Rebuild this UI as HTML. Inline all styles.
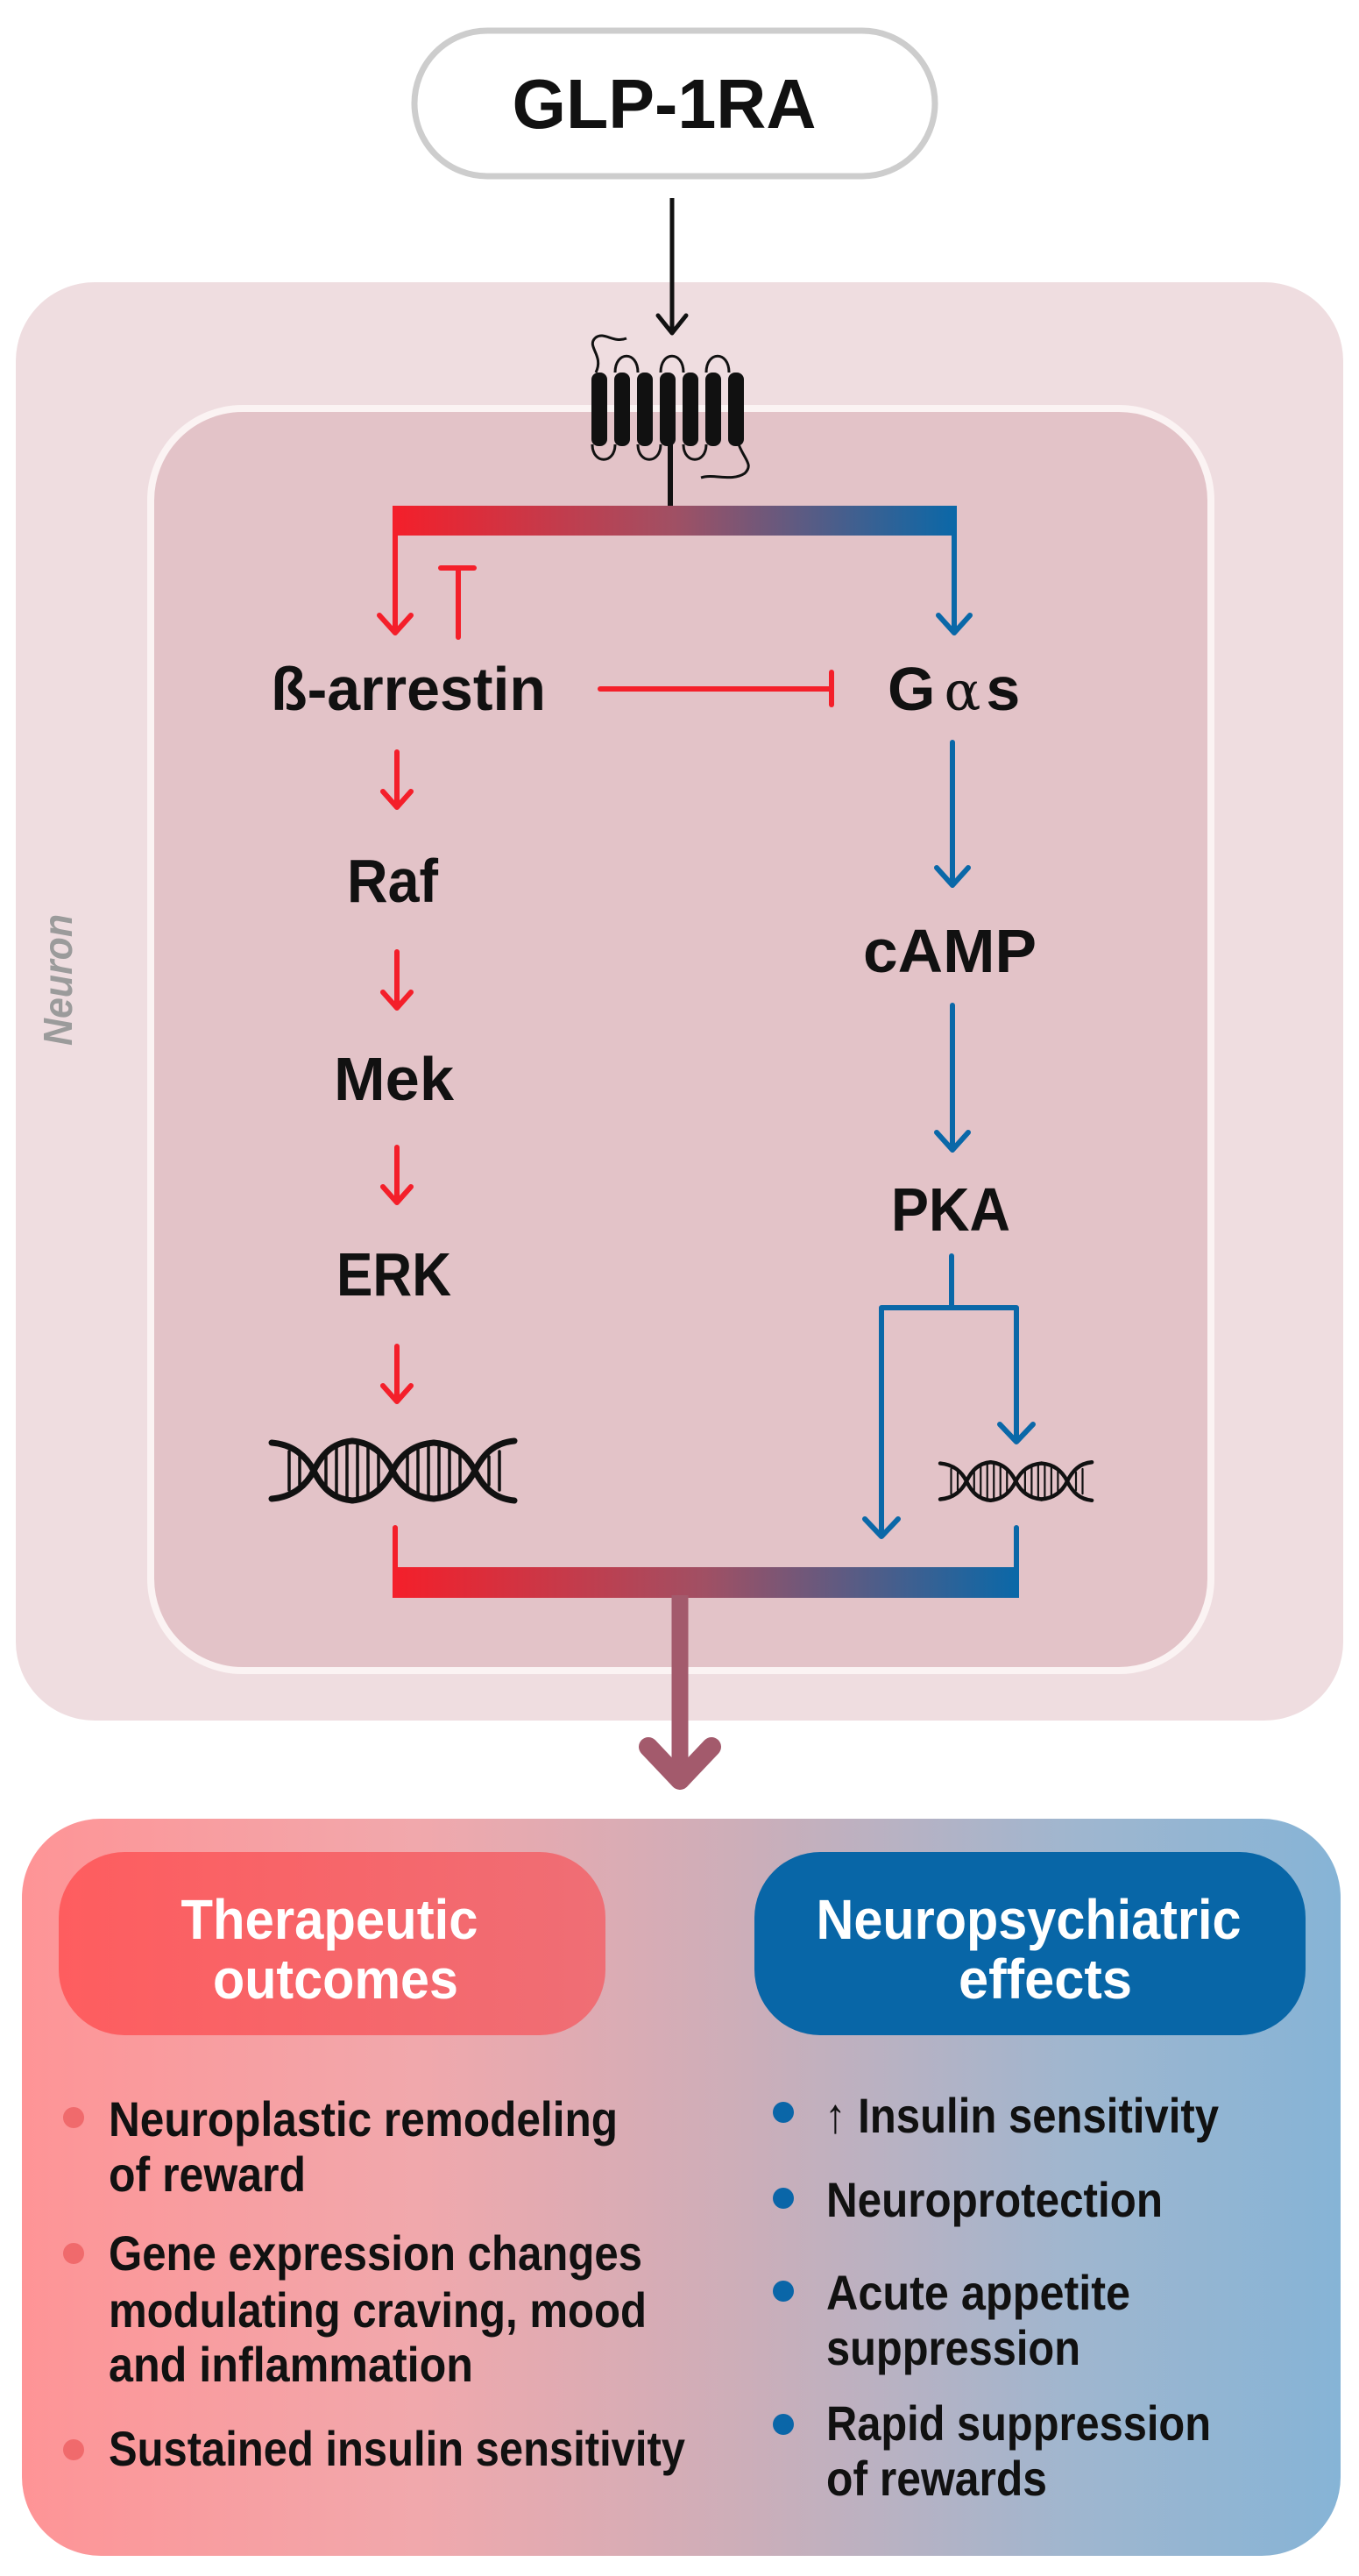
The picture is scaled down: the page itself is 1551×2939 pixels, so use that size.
<!DOCTYPE html>
<html><head><meta charset="utf-8"><style>
html,body{margin:0;padding:0;background:#fff}
svg{display:block}
text{font-family:"Liberation Sans",Arial,sans-serif;font-weight:bold}
</style></head><body>
<svg width="1551" height="2939" viewBox="0 0 1551 2939" xmlns="http://www.w3.org/2000/svg">
<defs>
<linearGradient id="bar" x1="0" x2="1" y1="0" y2="0">
<stop offset="0" stop-color="#f41f2a"/><stop offset="0.5" stop-color="#a05064"/><stop offset="1" stop-color="#0a68a8"/>
</linearGradient>
<linearGradient id="bot" x1="0" x2="1" y1="0" y2="0">
<stop offset="0" stop-color="#fe9496"/><stop offset="0.3" stop-color="#f1a8ac"/><stop offset="0.55" stop-color="#ccaeb9"/><stop offset="0.8" stop-color="#9fb6cf"/><stop offset="1" stop-color="#86b4d6"/>
</linearGradient>
<linearGradient id="hl" x1="0" x2="1"><stop offset="0" stop-color="#fe5d5f"/><stop offset="1" stop-color="#ef6e75"/></linearGradient>
<g id="dna" fill="none" stroke="#111" stroke-width="7" stroke-linecap="round">
<path d="M0,4 C25,6 40,20 48,36 C58,56 70,68 92,70"/>
<path d="M0,68 C25,66 40,52 48,36 C58,16 70,4 92,2"/>
<path d="M92,70 C114,68 128,56 138,36 C146,20 160,6 185,4"/>
<path d="M92,2 C114,4 128,16 138,36 C146,52 160,66 185,68"/>
<path d="M185,4 C210,6 224,20 232,36 C242,56 255,68 277,70"/>
<path d="M185,68 C210,66 224,52 232,36 C242,16 255,4 277,2"/>
<g stroke-width="3.5">
<path d="M62,14V58M74,8V64M86,5V67M98,5V67M110,8V64M122,14V58"/>
<path d="M155,14V58M167,8V64M179,5V67M191,5V67M203,8V64M215,14V58"/>
<path d="M20,14V58M32,20V52M248,20V52M260,14V58"/>
</g>
</g>
</defs>

<!-- GLP-1RA -->
<rect x="473" y="35" width="594" height="166" rx="83" fill="#fff" stroke="#cdcdcd" stroke-width="7"/>
<text x="758" y="146" font-size="80" text-anchor="middle" fill="#111" textLength="347" lengthAdjust="spacingAndGlyphs">GLP-1RA</text>

<!-- Neuron outer -->
<rect x="18" y="322" width="1515" height="1641" rx="90" fill="#efdde0"/>
<text transform="translate(82,1118) rotate(-90)" font-size="46" font-style="italic" font-weight="normal" fill="#9b9b9b" text-anchor="middle" textLength="150" lengthAdjust="spacingAndGlyphs">Neuron</text>
<!-- inner -->
<rect x="172" y="466" width="1210" height="1440" rx="105" fill="#e3c3c8" stroke="#fbf3f3" stroke-width="8"/>

<!-- input arrow -->
<line x1="767" y1="226" x2="767" y2="378" stroke="#111" stroke-width="5"/>
<path d="M751,360 L767,380 L783,360" fill="none" stroke="#111" stroke-width="5" stroke-linecap="round" stroke-linejoin="round"/>

<!-- receptor -->
<g fill="none" stroke="#111" stroke-width="3">
<path d="M680,425 C690,405 668,395 680,385 C690,378 700,392 715,386"/>
<path d="M702,425 C702,400 728,400 728,425"/>
<path d="M754,425 C754,400 780,400 780,425"/>
<path d="M806,425 C806,400 832,400 832,425"/>
<path d="M676,507 C676,530 702,530 702,507"/>
<path d="M728,507 C728,530 754,530 754,507"/>
<path d="M780,507 C780,530 806,530 806,507"/>
<path d="M843,507 C850,525 860,530 850,540 C835,550 815,540 800,545"/>
</g>
<g fill="#111">
<rect x="675" y="425" width="18" height="84" rx="8"/>
<rect x="701" y="425" width="18" height="84" rx="8"/>
<rect x="727" y="425" width="18" height="84" rx="8"/>
<rect x="753" y="425" width="18" height="84" rx="8"/>
<rect x="779" y="425" width="18" height="84" rx="8"/>
<rect x="805" y="425" width="18" height="84" rx="8"/>
<rect x="831" y="425" width="18" height="84" rx="8"/>
</g>
<line x1="765" y1="505" x2="765" y2="580" stroke="#111" stroke-width="6"/>

<!-- top bar -->
<rect x="448" y="577" width="644" height="34" fill="url(#bar)"/>

<g fill="none" stroke-linecap="round" stroke-linejoin="round" stroke-width="6">
<!-- red branch -->
<g stroke="#f41f2a">
<line x1="451" y1="605" x2="451" y2="720"/>
<path d="M433,702 L451,722 L469,702"/>
<line x1="523" y1="648" x2="523" y2="727"/>
<line x1="503" y1="648" x2="541" y2="648"/>
<line x1="685" y1="786" x2="949" y2="786"/>
<line x1="949" y1="767" x2="949" y2="804"/>
<line x1="453" y1="858" x2="453" y2="920"/><path d="M437,903 L453,921 L469,903"/>
<line x1="453" y1="1086" x2="453" y2="1149"/><path d="M437,1132 L453,1150 L469,1132"/>
<line x1="453" y1="1309" x2="453" y2="1371"/><path d="M437,1354 L453,1372 L469,1354"/>
<line x1="453" y1="1536" x2="453" y2="1598"/><path d="M437,1581 L453,1599 L469,1581"/>
<line x1="451" y1="1743" x2="451" y2="1795"/>
</g>
<!-- blue branch -->
<g stroke="#0a68a8">
<line x1="1089" y1="605" x2="1089" y2="720"/>
<path d="M1071,702 L1089,722 L1107,702"/>
<line x1="1087" y1="847" x2="1087" y2="1008"/><path d="M1069,990 L1087,1010 L1105,990"/>
<line x1="1087" y1="1147" x2="1087" y2="1310"/><path d="M1069,1292 L1087,1312 L1105,1292"/>
<line x1="1086" y1="1433" x2="1086" y2="1492"/>
<path d="M1006,1751 L1006,1492 L1160,1492 L1160,1643"/>
<path d="M987,1733 L1006,1753 L1025,1733"/>
<path d="M1141,1625 L1160,1645 L1179,1625"/>
<line x1="1160" y1="1743" x2="1160" y2="1795"/>
</g>
</g>

<!-- bottom bar -->
<rect x="448" y="1788" width="715" height="35" fill="url(#bar)"/>

<!-- output arrow -->
<line x1="776" y1="1820" x2="776" y2="2025" stroke="#a35a6c" stroke-width="19"/>
<path d="M740,1993 L776,2031 L812,1993" fill="none" stroke="#a35a6c" stroke-width="22" stroke-linecap="round" stroke-linejoin="round"/>

<!-- labels -->
<g fill="#111" font-size="70">
<text x="309" y="810" textLength="314" lengthAdjust="spacingAndGlyphs">ß-arrestin</text>
<text x="1013" y="810">G<tspan font-weight="normal" font-family="DejaVu Serif, serif" font-size="62" dx="10">α</tspan><tspan dx="6">s</tspan></text>
<text x="396" y="1029" textLength="104" lengthAdjust="spacingAndGlyphs">Raf</text>
<text x="381" y="1255" textLength="137" lengthAdjust="spacingAndGlyphs">Mek</text>
<text x="384" y="1478" textLength="131" lengthAdjust="spacingAndGlyphs">ERK</text>
<text x="985" y="1109" textLength="198" lengthAdjust="spacingAndGlyphs">cAMP</text>
<text x="1017" y="1404" textLength="136" lengthAdjust="spacingAndGlyphs">PKA</text>
</g>

<!-- DNA -->
<use href="#dna" transform="translate(310,1642)"/>
<use href="#dna" transform="translate(1073,1667) scale(0.625,0.64)"/>

<!-- bottom panel -->
<rect x="25" y="2075" width="1505" height="841" rx="90" fill="url(#bot)"/>
<rect x="67" y="2113" width="624" height="209" rx="75" fill="url(#hl)"/>
<rect x="861" y="2113" width="629" height="209" rx="75" fill="#0866a7"/>
<g fill="#fff" font-size="64" text-anchor="middle">
<text x="376" y="2212" textLength="339" lengthAdjust="spacingAndGlyphs">Therapeutic</text>
<text x="383" y="2280" textLength="280" lengthAdjust="spacingAndGlyphs">outcomes</text>
<text x="1174" y="2212" textLength="485" lengthAdjust="spacingAndGlyphs">Neuropsychiatric</text>
<text x="1193" y="2280" textLength="198" lengthAdjust="spacingAndGlyphs">effects</text>
</g>
<g fill="#f06a6c">
<circle cx="84" cy="2416" r="12"/><circle cx="84" cy="2571" r="12"/><circle cx="84" cy="2795" r="12"/>
</g>
<g fill="#0a66a8">
<circle cx="894" cy="2410" r="12"/><circle cx="894" cy="2508" r="12"/><circle cx="894" cy="2614" r="12"/><circle cx="894" cy="2766" r="12"/>
</g>
<g fill="#111" font-size="56" lengthAdjust="spacingAndGlyphs">
<text x="124" y="2437" textLength="581" lengthAdjust="spacingAndGlyphs">Neuroplastic remodeling</text>
<text x="124" y="2500" textLength="225" lengthAdjust="spacingAndGlyphs">of reward</text>
<text x="124" y="2590" textLength="609" lengthAdjust="spacingAndGlyphs">Gene expression changes</text>
<text x="124" y="2655" textLength="614" lengthAdjust="spacingAndGlyphs">modulating craving, mood</text>
<text x="124" y="2717" textLength="416" lengthAdjust="spacingAndGlyphs">and inflammation</text>
<text x="124" y="2813" textLength="658" lengthAdjust="spacingAndGlyphs">Sustained insulin sensitivity</text>
<text x="941" y="2433" textLength="450" lengthAdjust="spacingAndGlyphs">↑ Insulin sensitivity</text>
<text x="943" y="2529" textLength="384" lengthAdjust="spacingAndGlyphs">Neuroprotection</text>
<text x="943" y="2635" textLength="347" lengthAdjust="spacingAndGlyphs">Acute appetite</text>
<text x="943" y="2698" textLength="290" lengthAdjust="spacingAndGlyphs">suppression</text>
<text x="943" y="2784" textLength="439" lengthAdjust="spacingAndGlyphs">Rapid suppression</text>
<text x="943" y="2847" textLength="252" lengthAdjust="spacingAndGlyphs">of rewards</text>
</g>
</svg>
</body></html>
